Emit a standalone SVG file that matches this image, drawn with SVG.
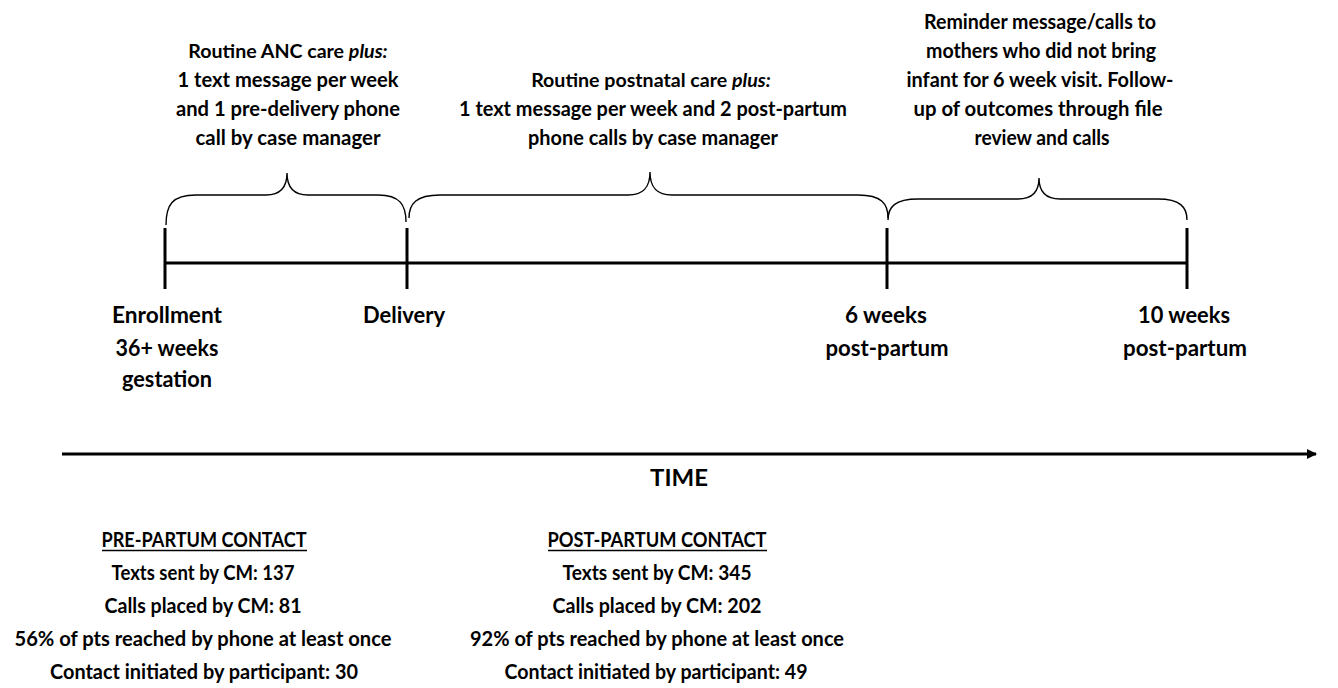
<svg xmlns="http://www.w3.org/2000/svg" width="1338" height="688" viewBox="0 0 1338 688">
<defs>
<style>
text{font-family:Lato,"Open Sans","Liberation Sans",sans-serif;font-weight:bold;fill:#000;text-anchor:middle}
.t{font-size:21px}
.h{font-size:19.6px}
.l{font-size:22px}
.b{font-size:20.5px}
.i{font-style:italic}
.brace{fill:none;stroke:#000;stroke-width:1.4}
.axis{stroke:#000;stroke-width:3;fill:none}
</style>
<marker id="ah" viewBox="0 0 10 10" refX="9" refY="5" markerWidth="3.4" markerHeight="3.4" orient="auto" markerUnits="strokeWidth">
<path d="M0,0 L10,5 L0,10 z" fill="#000"/>
</marker>
</defs>
<rect width="1338" height="688" fill="#fff"/>

<g id="connectors">
<line class="axis" x1="165" y1="263" x2="1187" y2="263"/>
<line class="axis" x1="165" y1="228" x2="165" y2="289"/>
<line class="axis" x1="407" y1="228" x2="407" y2="289"/>
<line class="axis" x1="887" y1="228" x2="887" y2="289"/>
<line class="axis" x1="1187" y1="228" x2="1187" y2="289"/>
<path class="brace" d="M166,225 C166,205 172,195 196,195 L266,195 C280,195 287,188 287,173 C287,188 294,195 308,195 L378,195 C400,195 406,205 406,222"/>
<path class="brace" d="M409,218 C409,204 416,195 440,195 L628,195 C643,195 650,188 650,172 C650,188 657,195 672,195 L858,195 C882,195 888,204 888,218"/>
<path class="brace" d="M888,220 C888,207 895,199 918,199 L1018,199 C1032,199 1039,192 1039,178 C1039,192 1046,199 1060,199 L1158,199 C1180,199 1187,207 1187,220"/>
<line class="axis" x1="62" y1="454" x2="1316" y2="454" marker-end="url(#ah)"/>
</g>

<g id="anc-text">
<text class="h" x="288" y="58">Routine ANC care <tspan class="i">plus:</tspan></text>
<text class="t" x="288" y="87" textLength="221" lengthAdjust="spacingAndGlyphs">1 text message per week</text>
<text class="t" x="288" y="116" textLength="224" lengthAdjust="spacingAndGlyphs">and 1 pre-delivery phone</text>
<text class="t" x="288" y="145" textLength="185" lengthAdjust="spacingAndGlyphs">call by case manager</text>
</g>

<g id="postnatal-text">
<text class="h" x="651" y="87">Routine postnatal care <tspan class="i">plus:</tspan></text>
<text class="t" x="653" y="116" textLength="388" lengthAdjust="spacingAndGlyphs">1 text message per week and 2 post-partum</text>
<text class="t" x="653" y="145" textLength="250" lengthAdjust="spacingAndGlyphs">phone calls by case manager</text>
</g>

<g id="reminder-text">
<text class="t" x="1040" y="29" textLength="232" lengthAdjust="spacingAndGlyphs">Reminder message/calls to</text>
<text class="t" x="1041" y="58" textLength="230" lengthAdjust="spacingAndGlyphs">mothers who did not bring</text>
<text class="t" x="1040" y="87" textLength="267" lengthAdjust="spacingAndGlyphs">infant for 6 week visit. Follow-</text>
<text class="t" x="1038" y="116" textLength="249" lengthAdjust="spacingAndGlyphs">up of outcomes through file</text>
<text class="t" x="1042" y="145" textLength="135" lengthAdjust="spacingAndGlyphs">review and calls</text>
</g>

<g id="enrollment">
<text class="l" x="167" y="323" textLength="110" lengthAdjust="spacingAndGlyphs">Enrollment</text>
<text class="l" x="167" y="356" textLength="103" lengthAdjust="spacingAndGlyphs">36+ weeks</text>
<text class="l" x="167" y="387" textLength="90" lengthAdjust="spacingAndGlyphs">gestation</text>
</g>

<g id="delivery">
<text class="l" x="404" y="323" textLength="82" lengthAdjust="spacingAndGlyphs">Delivery</text>
</g>

<g id="six-weeks">
<text class="l" x="886" y="323" textLength="82" lengthAdjust="spacingAndGlyphs">6 weeks</text>
<text class="l" x="887" y="356" textLength="123" lengthAdjust="spacingAndGlyphs">post-partum</text>
</g>

<g id="ten-weeks">
<text class="l" x="1184" y="323" textLength="92" lengthAdjust="spacingAndGlyphs">10 weeks</text>
<text class="l" x="1185" y="356" textLength="124" lengthAdjust="spacingAndGlyphs">post-partum</text>
</g>

<g id="time-label">
<text class="l" x="679" y="486" textLength="58" lengthAdjust="spacingAndGlyphs">TIME</text>
</g>

<g id="pre-partum">
<text class="b" x="204" y="547" textLength="205" lengthAdjust="spacingAndGlyphs">PRE-PARTUM CONTACT</text>
<line x1="102" y1="550.5" x2="307" y2="550.5" stroke="#000" stroke-width="1.3"/>
<text class="b" x="203" y="580" textLength="183" lengthAdjust="spacingAndGlyphs">Texts sent by CM: 137</text>
<text class="b" x="203" y="613" textLength="197" lengthAdjust="spacingAndGlyphs">Calls placed by CM: 81</text>
<text class="b" x="203" y="646" textLength="377" lengthAdjust="spacingAndGlyphs">56% of pts reached by phone  at least once</text>
<text class="b" x="204" y="679" textLength="308" lengthAdjust="spacingAndGlyphs">Contact initiated by participant: 30</text>
</g>

<g id="post-partum">
<text class="b" x="657" y="547" textLength="219" lengthAdjust="spacingAndGlyphs">POST-PARTUM CONTACT</text>
<line x1="548" y1="550.5" x2="767" y2="550.5" stroke="#000" stroke-width="1.3"/>
<text class="b" x="657" y="580" textLength="189" lengthAdjust="spacingAndGlyphs">Texts sent by CM: 345</text>
<text class="b" x="657" y="613" textLength="209" lengthAdjust="spacingAndGlyphs">Calls placed by CM: 202</text>
<text class="b" x="657" y="646" textLength="374" lengthAdjust="spacingAndGlyphs">92% of pts reached by phone at least once</text>
<text class="b" x="656" y="679" textLength="303" lengthAdjust="spacingAndGlyphs">Contact initiated by participant: 49</text>
</g>
</svg>
